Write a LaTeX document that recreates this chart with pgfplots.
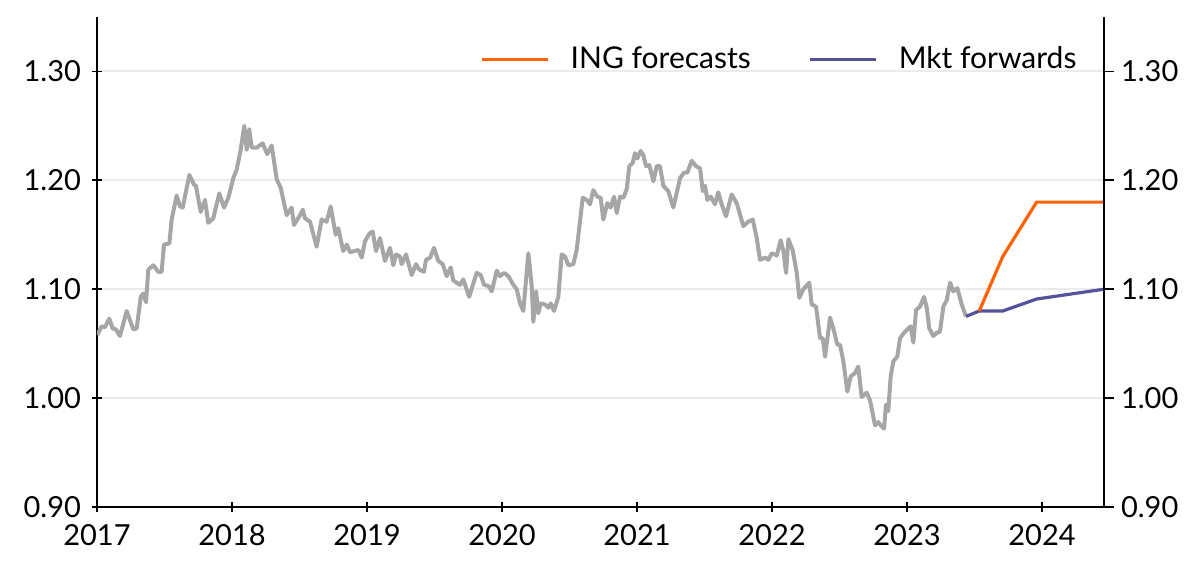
\documentclass[border=0pt]{standalone}
\usepackage{pgfplots}
\pgfplotsset{compat=1.18}
\usepackage{fontspec}
\setmainfont{Lato}
\usetikzlibrary{calc}
\definecolor{inggray}{HTML}{A6A6A6}
\definecolor{ingorange}{HTML}{FF6200}
\definecolor{ingblue}{HTML}{55519A}
\definecolor{gridgray}{HTML}{EBEBEB}

\pgfplotstableread{
x y
2017.002 1.058
2017.035 1.066
2017.059 1.065
2017.091 1.073
2017.116 1.064
2017.141 1.063
2017.170 1.057
2017.220 1.080
2017.269 1.063
2017.294 1.064
2017.324 1.093
2017.343 1.096
2017.363 1.088
2017.380 1.118
2017.417 1.122
2017.454 1.116
2017.479 1.116
2017.496 1.141
2017.536 1.142
2017.553 1.164
2017.590 1.186
2017.615 1.176
2017.635 1.175
2017.684 1.205
2017.719 1.196
2017.733 1.195
2017.768 1.171
2017.800 1.182
2017.824 1.161
2017.861 1.165
2017.906 1.188
2017.941 1.175
2017.973 1.184
2018.010 1.202
2018.035 1.210
2018.064 1.228
2018.091 1.250
2018.109 1.228
2018.128 1.247
2018.146 1.230
2018.183 1.230
2018.227 1.234
2018.261 1.224
2018.294 1.232
2018.331 1.201
2018.361 1.193
2018.405 1.168
2018.442 1.175
2018.459 1.159
2018.504 1.168
2018.524 1.173
2018.541 1.165
2018.578 1.162
2018.627 1.139
2018.664 1.164
2018.701 1.162
2018.731 1.176
2018.768 1.150
2018.787 1.156
2018.824 1.135
2018.850 1.141
2018.874 1.134
2018.936 1.136
2018.961 1.129
2018.985 1.144
2019.017 1.151
2019.042 1.153
2019.067 1.135
2019.096 1.147
2019.133 1.126
2019.170 1.138
2019.195 1.122
2019.215 1.132
2019.244 1.130
2019.257 1.123
2019.289 1.132
2019.331 1.113
2019.363 1.123
2019.387 1.118
2019.422 1.116
2019.437 1.127
2019.467 1.129
2019.496 1.138
2019.528 1.126
2019.561 1.123
2019.590 1.112
2019.620 1.120
2019.639 1.108
2019.689 1.104
2019.713 1.109
2019.757 1.093
2019.812 1.115
2019.842 1.113
2019.867 1.104
2019.899 1.103
2019.924 1.098
2019.961 1.117
2019.985 1.112
2020.015 1.115
2020.047 1.112
2020.084 1.104
2020.109 1.100
2020.133 1.087
2020.158 1.080
2020.195 1.133
2020.220 1.103
2020.232 1.070
2020.252 1.098
2020.269 1.078
2020.287 1.087
2020.319 1.086
2020.343 1.083
2020.361 1.087
2020.385 1.080
2020.417 1.093
2020.442 1.132
2020.467 1.130
2020.491 1.122
2020.528 1.123
2020.553 1.136
2020.598 1.184
2020.627 1.182
2020.652 1.178
2020.676 1.191
2020.706 1.185
2020.731 1.184
2020.750 1.164
2020.780 1.179
2020.805 1.175
2020.830 1.185
2020.850 1.170
2020.874 1.185
2020.899 1.184
2020.924 1.192
2020.943 1.213
2020.968 1.216
2020.985 1.225
2021.002 1.220
2021.027 1.227
2021.047 1.223
2021.067 1.213
2021.091 1.214
2021.121 1.199
2021.146 1.213
2021.170 1.213
2021.195 1.195
2021.232 1.190
2021.269 1.175
2021.319 1.202
2021.348 1.207
2021.373 1.207
2021.405 1.218
2021.437 1.213
2021.467 1.211
2021.487 1.190
2021.504 1.195
2021.521 1.182
2021.546 1.185
2021.578 1.178
2021.602 1.189
2021.627 1.178
2021.659 1.167
2021.701 1.187
2021.739 1.179
2021.787 1.158
2021.824 1.162
2021.857 1.164
2021.887 1.147
2021.911 1.127
2021.948 1.129
2021.973 1.127
2021.998 1.133
2022.035 1.131
2022.064 1.145
2022.084 1.135
2022.104 1.115
2022.121 1.146
2022.153 1.136
2022.183 1.115
2022.202 1.092
2022.232 1.100
2022.276 1.106
2022.294 1.086
2022.326 1.084
2022.356 1.055
2022.376 1.055
2022.393 1.038
2022.430 1.074
2022.454 1.064
2022.484 1.049
2022.504 1.049
2022.528 1.034
2022.558 1.006
2022.583 1.020
2022.615 1.023
2022.639 1.029
2022.664 1.001
2022.701 1.005
2022.726 0.998
2022.763 0.975
2022.787 0.978
2022.805 0.975
2022.830 0.972
2022.844 0.994
2022.861 0.988
2022.879 1.020
2022.899 1.034
2022.928 1.038
2022.948 1.055
2022.978 1.060
2023.010 1.064
2023.027 1.066
2023.047 1.051
2023.067 1.081
2023.096 1.084
2023.126 1.093
2023.146 1.083
2023.165 1.064
2023.195 1.057
2023.220 1.060
2023.244 1.061
2023.269 1.084
2023.294 1.090
2023.319 1.106
2023.343 1.098
2023.373 1.101
2023.405 1.086
2023.437 1.075
}\spot

\pgfplotstableread{
x y
2023.437 1.075
2023.535 1.080
2023.709 1.080
2023.960 1.091
2024.459 1.100
}\fwd

\pgfplotstableread{
x y
2023.535 1.080
2023.709 1.130
2023.960 1.180
2024.459 1.180
}\ing

\pgfplotsset{
  common/.style={
    scale only axis,
    width=503.5pt, height=245pt,
    xmin=2017, xmax=2024.459,
    ymin=0.90, ymax=1.35,
    ytick={0.9,1.0,1.1,1.2,1.3},
    yticklabel style={/pgf/number format/.cd,fixed,fixed zerofill,precision=2,/tikz/.cd},
    /pgf/number format/assume math mode=true,
    tick align=outside,
    major tick length=5pt,
    tick style={black, line width=0.9pt},
    axis line style={black, line width=0.9pt},
    ticklabel style={font=\fontsize{14.5}{16}\selectfont},
  }
}

\begin{document}
\begin{tikzpicture}
\begin{axis}[common,
  name=ax,
  axis x line=bottom, axis y line=left,
  axis line style={-},
  xtick={2017,2018,2019,2020,2021,2022,2023,2024},
  xticklabel style={yshift=-2.5pt, /pgf/number format/.cd,set thousands separator={},fixed,precision=0,/tikz/.cd},
  yticklabel style={/tikz/xshift=-2pt},
  ymajorgrids=true,
  grid style={gridgray, line width=1pt},
  legend style={draw=none, fill=none, at={(axis description cs:0.977,0.914)}, anchor=east,
    font=\fontsize{15}{16}\selectfont, inner sep=0pt,
    /tikz/every even column/.append style={column sep=27pt}},
  legend columns=2,
  legend cell align=left,
  legend image code/.code={\draw[#1] (0pt,0pt) -- (33pt,0pt); \path (41.5pt,0pt);},
]
\addlegendimage{ingorange, line width=1.5pt}
\addlegendentry{ING forecasts}
\addlegendimage{ingblue, line width=1.5pt}
\addlegendentry{Mkt forwards}
\addplot[inggray, line width=2pt, line join=round, forget plot] table[x=x,y=y] {\spot};
\addplot[ingblue, line width=1.6pt, line join=round, forget plot] table[x=x,y=y] {\fwd};
\addplot[ingorange, line width=1.6pt, line join=round, forget plot] table[x=x,y=y] {\ing};
\end{axis}
\begin{axis}[common,
  axis x line=none, axis y line*=right,
  axis line style={-},
  xtick=\empty,
]
\end{axis}
\pgfresetboundingbox
\path[use as bounding box] ($(ax.south west)+(-48.5pt,-34.5pt)$) rectangle ($(ax.north east)+(48pt,8.5pt)$);
\end{tikzpicture}
\end{document}
